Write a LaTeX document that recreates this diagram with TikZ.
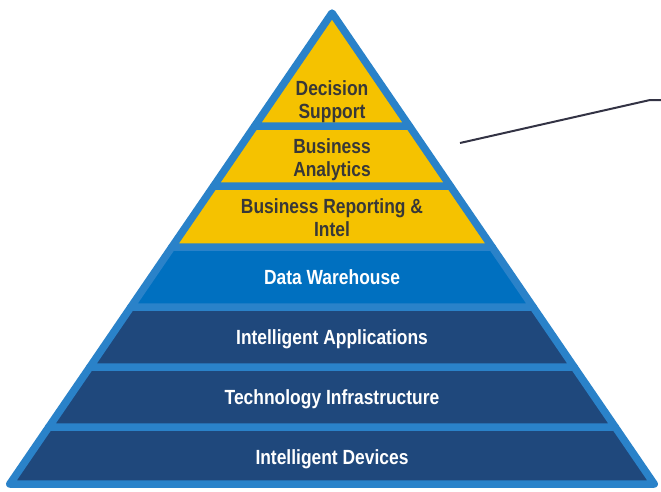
\documentclass[tikz,border=0pt]{standalone}
\usepackage{fontspec}
\setmainfont[FakeStretch=0.85]{Liberation Sans}
\begin{document}
\begin{tikzpicture}[x=1pt,y=-1pt,
  layer/.style={draw=edgeblue, line width=7.5pt, line join=round},
  label/.style={inner sep=0pt, align=center,
    font=\bfseries\fontsize{20.5}{23}\selectfont},
  darklabel/.style={label, text=labelgrey},
  lightlabel/.style={label, text=white},
  callout/.style={draw=calloutgrey, line width=2pt, line join=round}]
\definecolor{edgeblue}{HTML}{2A82C9}
\definecolor{gold}{HTML}{F5C200}
\definecolor{midblue}{HTML}{0070C0}
\definecolor{navy}{HTML}{1F487C}
\definecolor{labelgrey}{HTML}{383838}
\definecolor{calloutgrey}{HTML}{333344}
\useasboundingbox (0,0) rectangle (661,491);

% pyramid layers, apex at (332,13), base at y=484
\path[layer, fill=navy]    (48.8,427) -- (615.2,427) -- (654.2,484) -- (9.8,484) -- cycle;
\path[layer, fill=navy]    (89.9,367) -- (574.1,367) -- (615.2,427) -- (48.8,427) -- cycle;
\path[layer, fill=navy]    (130.9,307) -- (533.1,307) -- (574.1,367) -- (89.9,367) -- cycle;
\path[layer, fill=midblue] (171.9,247) -- (492.1,247) -- (533.1,307) -- (130.9,307) -- cycle;
\path[layer, fill=gold]    (213.7,186) -- (450.3,186) -- (492.1,247) -- (171.9,247) -- cycle;
\path[layer, fill=gold]    (254.7,126) -- (409.3,126) -- (450.3,186) -- (213.7,186) -- cycle;
\path[layer, fill=gold]    (332,13) -- (409.3,126) -- (254.7,126) -- cycle;

% layer captions
\node[darklabel, anchor=north] (decision) at (332,80.5) {Decision\\Support};
\node[darklabel, anchor=north] (analytics) at (332,138) {Business\\Analytics};
\node[darklabel, anchor=north] (reporting) at (332,198.5) {Business Reporting \&\\Intel};
\node[lightlabel, anchor=base] (warehouse) at (332,284) {Data Warehouse};
\node[lightlabel, anchor=base] (applications) at (332,344) {Intelligent Applications};
\node[lightlabel, anchor=base] (infrastructure) at (332,404) {Technology Infrastructure};
\node[lightlabel, anchor=base] (devices) at (332,464) {Intelligent Devices};

% callout leader
\coordinate (leaderstart) at (460,143);
\coordinate (leaderknee) at (650,100);
\coordinate (leaderend) at (661,100);
\draw[callout] (leaderstart) -- (leaderknee) -- (leaderend);
\end{tikzpicture}
\end{document}
